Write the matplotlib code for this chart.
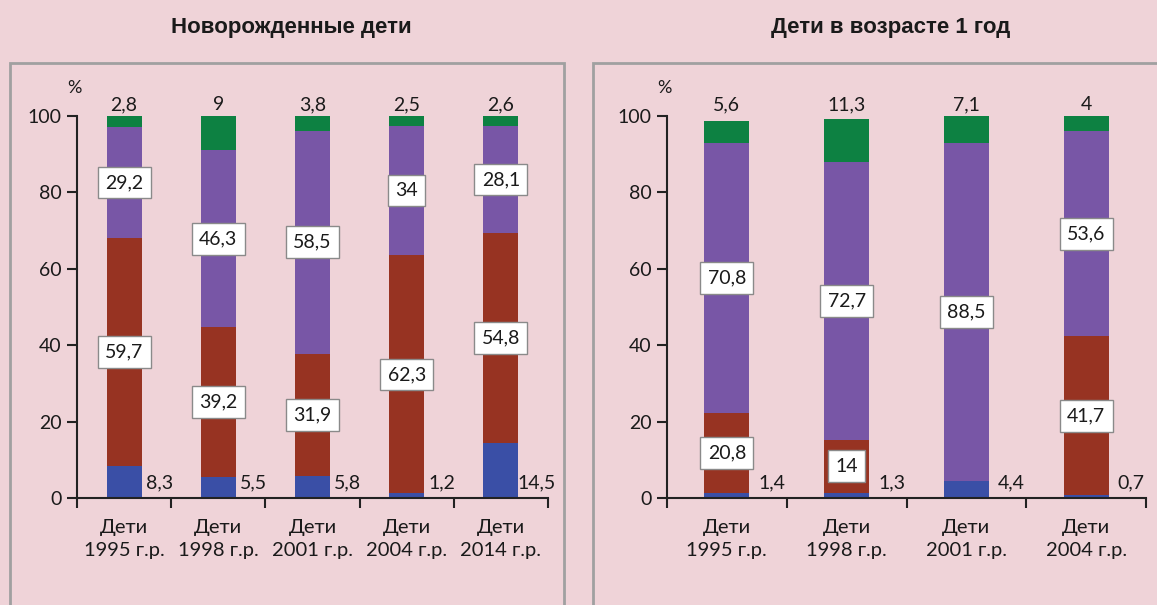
import matplotlib.pyplot as plt
from matplotlib.patches import Rectangle

# Данные: новорожденные дети
cats_new = ['Дети\n1995 г.р.', 'Дети\n1998 г.р.', 'Дети\n2001 г.р.', 'Дети\n2004 г.р.', 'Дети\n2014 г.р.']
blue_new = [8.3, 5.5, 5.8, 1.2, 14.5]
red_new = [59.7, 39.2, 31.9, 62.3, 54.8]
purple_new = [29.2, 46.3, 58.5, 34, 28.1]
green_new = [2.8, 9, 3.8, 2.5, 2.6]

# Данные: дети в возрасте 1 год
cats_1y = ['Дети\n1995 г.р.', 'Дети\n1998 г.р.', 'Дети\n2001 г.р.', 'Дети\n2004 г.р.']
blue_1y = [1.4, 1.3, 4.4, 0.7]
red_1y = [20.8, 14, 0, 41.7]
purple_1y = [70.8, 72.7, 88.5, 53.6]
green_1y = [5.6, 11.3, 7.1, 4]

BG = '#efd3d8'
C_BLUE = '#3a4fa6'
C_RED = '#973322'
C_PURPLE = '#7856a6'
C_GREEN = '#0d8142'
TXT = '#1a1a1a'

plt.rcParams['font.family'] = ['Lato', 'Open Sans', 'DejaVu Sans']

W, H = 1157, 605
fig = plt.figure(figsize=(W / 100, H / 100), dpi=100, facecolor=BG)


def fmt(v):
    return ('%g' % v).replace('.', ',')


def panel(x0, x1, cats, blue, red, purple, green, width):
    ax = fig.add_axes([x0 / W, (H - 498) / H, (x1 - x0) / W, (498 - 116) / H])
    ax.set_facecolor('none')
    n = len(cats)
    idx = list(range(n))
    bottom = [0] * n
    box = dict(boxstyle='square,pad=0.38', fc='white', ec='#8a8a8a', lw=1)
    for vals, col in [(blue, C_BLUE), (red, C_RED), (purple, C_PURPLE), (green, C_GREEN)]:
        ax.bar(idx, vals, width, bottom=bottom, color=col, zorder=2)
        if col in (C_RED, C_PURPLE):
            for i in idx:
                if vals[i] > 0:
                    ax.text(i, bottom[i] + vals[i] / 2, fmt(vals[i]), ha='center', va='center',
                            fontsize=14, color=TXT, bbox=box, zorder=4)
        bottom = [b + v for b, v in zip(bottom, vals)]
    for i in idx:
        ax.text(i + 0.375, 4, fmt(blue[i]), ha='center', va='center', fontsize=14, color=TXT)
        ax.text(i, 103, fmt(green[i]), ha='center', va='center', fontsize=14, color=TXT,
                clip_on=False)
    ax.set_xlim(-0.5, n - 0.5)
    ax.set_ylim(0, 100)
    ax.set_yticks(range(0, 101, 20))
    ax.set_xticks([i - 0.5 for i in range(n + 1)])
    ax.set_xticklabels([])
    ax.set_xticks(idx, minor=True)
    ax.set_xticklabels(cats, minor=True, fontsize=14.5, color=TXT, linespacing=1.45)
    ax.tick_params(axis='x', which='minor', length=0, pad=15)
    ax.tick_params(axis='x', which='major', length=7, width=1.5, direction='out', color='#222222')
    ax.tick_params(axis='y', length=7, width=1.5, color='#222222', labelsize=14,
                   labelcolor=TXT, pad=4)
    for s in ['top', 'right']:
        ax.spines[s].set_visible(False)
    for s in ['left', 'bottom']:
        ax.spines[s].set_linewidth(1.5)
        ax.spines[s].set_color('#222222')
    ax.text(-0.006, 1.073, '%', transform=ax.transAxes, ha='center', va='center',
            fontsize=13, color=TXT)
    return ax


# Рамки панелей
fig.patches.append(Rectangle((10 / W, -0.1), (564 - 10) / W, 1.1 - 63 / H,
                             transform=fig.transFigure, fill=False, ec='#a0a0a0', lw=2))
fig.patches.append(Rectangle((593 / W, -0.1), 0.6, 1.1 - 63 / H,
                             transform=fig.transFigure, fill=False, ec='#a0a0a0', lw=2))

panel(77, 548, cats_new, blue_new, red_new, purple_new, green_new, 0.37)
panel(667, 1146, cats_1y, blue_1y, red_1y, purple_1y, green_1y, 0.375)

fig.text(291 / W, 1 - 28 / H, 'Новорожденные дети', ha='center', va='center',
         fontsize=16, fontweight='bold', family='Liberation Sans', color=TXT)
fig.text(891 / W, 1 - 28 / H, 'Дети в возрасте 1 год', ha='center', va='center',
         fontsize=16, fontweight='bold', family='Liberation Sans', color=TXT)

fig.savefig('out.png', dpi=100, facecolor=BG)
